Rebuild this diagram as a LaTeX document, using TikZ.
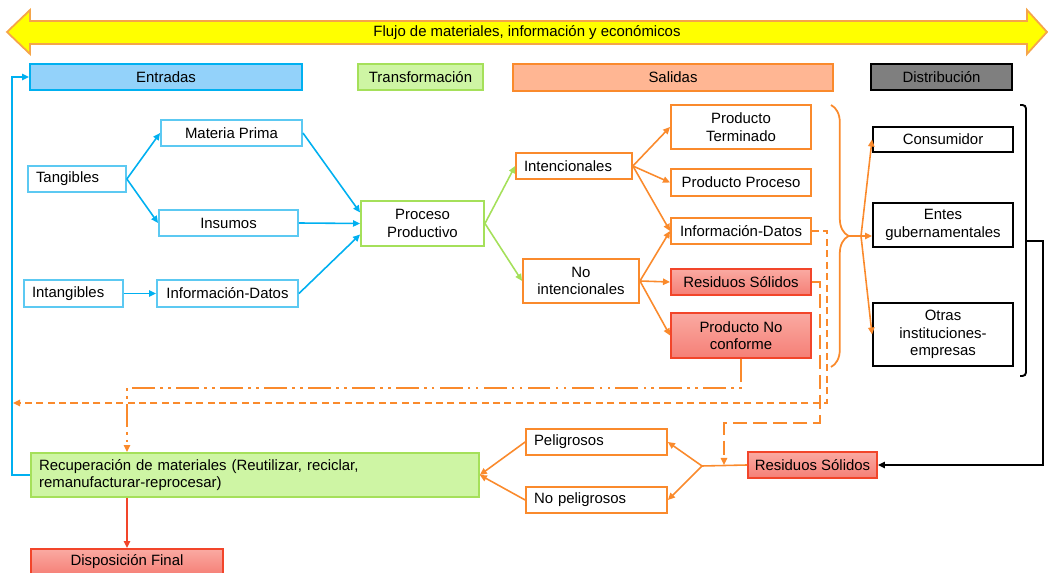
\documentclass[tikz,border=0pt]{standalone}
\usepackage{fontspec}
\setmainfont{Liberation Sans}
\usetikzlibrary{arrows.meta,decorations.pathreplacing}

\definecolor{flujoY}{HTML}{FFFF00}
\definecolor{flujoB}{HTML}{F5A54A}
\definecolor{azul}{HTML}{00B0F0}
\definecolor{azulclaro}{HTML}{5CC9F2}
\definecolor{azulfondo}{HTML}{93D2FA}
\definecolor{verde}{HTML}{A5E05A}
\definecolor{verdefondo}{HTML}{CEF5A4}
\definecolor{naranja}{HTML}{FA8A2C}
\definecolor{naranjafondo}{HTML}{FFB693}
\definecolor{rojo}{HTML}{F2452A}
\definecolor{rojoarriba}{HTML}{FAAAA2}
\definecolor{rojoabajo}{HTML}{F57F76}
\definecolor{gris}{HTML}{7F7F7F}

\begin{document}
\begin{tikzpicture}[x=0.02cm,y=-0.02cm,line width=0.3pt,
  font=\fontsize{8.5}{10}\selectfont,
  caja/.style={draw,line width=1.1pt,inner sep=2pt,align=center,minimum height=0.52cm,fill=white},
  izq/.style={align=left,inner xsep=4.5pt,text width=#1},
  cazul/.style={caja,draw=azulclaro},
  cverde/.style={caja,draw=verde},
  cnaranja/.style={caja,draw=naranja},
  crojo/.style={caja,draw=rojo,top color=rojoarriba,bottom color=rojoabajo},
  cnegro/.style={caja,draw=black},
  punta/.style={-{Triangle[length=4pt,width=3.6pt]},line width=0.9pt},
  fazul/.style={punta,azul},
  fverde/.style={punta,verde},
  fnaranja/.style={punta,naranja},
  dinfo/.style={naranja,line width=0.9pt,dash pattern=on 4pt off 2.5pt},
  dres/.style={naranja,line width=0.9pt,dash pattern=on 8pt off 3.5pt},
  dnc/.style={naranja,line width=1pt,dash pattern=on 13pt off 3pt on 1.5pt off 3pt on 1.5pt off 3pt}]
\useasboundingbox (0,0) rectangle (1048,573);

% flecha de flujo
\draw[fill=flujoY,draw=flujoB,line width=1pt] (7,32) -- (30,10) -- (30,21) -- (1027,21) -- (1027,10)
  -- (1047,32) -- (1027,54) -- (1027,44) -- (30,44) -- (30,54) -- cycle;
\node (flujo) at (527,33) {Flujo de materiales, información y económicos};

% encabezados
\node[caja,draw=azul,fill=azulfondo,minimum width=5.44cm] (entradas) at (166,77) {Entradas};
\node[caja,draw=verde,fill=verdefondo,minimum width=2.5cm] (transf) at (420.5,77) {Transformación};
\node[caja,draw=naranja,fill=naranjafondo,minimum width=6.4cm,minimum height=0.54cm] (salidas) at (673,77.5) {Salidas};
\node[caja,draw=black,fill=gris,minimum width=2.82cm] (distrib) at (941.5,77) {Distribución};

% entradas
\node[cazul,izq=1.64cm] (tang) at (77,179) {Tangibles};
\node[cazul,minimum width=2.82cm] (mprima) at (231.5,133) {Materia Prima};
\node[cazul,minimum width=2.78cm] (insumos) at (228.5,223) {Insumos};
\node[cazul,izq=1.66cm,minimum height=0.54cm] (intang) at (73.5,293.5) {Intangibles};
\node[cazul,minimum width=2.82cm,minimum height=0.54cm] (infoin) at (227.5,293.5) {Información-Datos};

% transformacion
\node[cverde,minimum width=2.46cm,minimum height=0.9cm] (proceso) at (422.5,223.5) {Proceso\\Productivo};

% salidas
\node[cnaranja,izq=2.0cm] (intenc) at (574,166) {Intencionales};
\node[cnaranja,minimum width=2.32cm,minimum height=0.88cm] (nointenc) at (581,281) {No\\intencionales};
\node[cnaranja,minimum width=2.8cm,minimum height=0.88cm] (pterm) at (741,127) {Producto\\Terminado};
\node[cnaranja,minimum width=2.8cm,minimum height=0.54cm] (pproc) at (741,182.5) {Producto Proceso};
\node[cnaranja,minimum width=2.8cm] (infoout) at (741,231) {Información-Datos};
\node[crojo,minimum width=2.8cm] (residuos) at (741,282) {Residuos Sólidos};
\node[crojo,minimum width=2.8cm,minimum height=0.9cm] (pnc) at (741,335.5) {Producto No\\conforme};

% distribucion
\node[cnegro,minimum width=2.8cm,minimum height=0.5cm] (consum) at (943,139.5) {Consumidor};
\node[cnegro,minimum width=2.8cm,minimum height=0.88cm] (entes) at (943,225) {Entes\\gubernamentales};
\node[cnegro,minimum width=2.8cm,minimum height=1.26cm] (otras) at (943,334.5) {Otras\\instituciones-\\empresas};

% recuperacion
\node[caja,draw=verde,fill=verdefondo,izq=8.64cm,minimum height=0.88cm] (recup) at (255,475)
  {Recuperación de materiales (Reutilizar, reciclar,\\remanufacturar-reprocesar)};
\node[crojo,minimum width=3.84cm] (dispo) at (127,562) {Disposición Final};
\node[cnaranja,izq=2.5cm] (peligro) at (596.5,442) {Peligrosos};
\node[cnaranja,izq=2.5cm] (nopelig) at (596.5,500) {No peligrosos};
\node[crojo,minimum width=2.58cm] (resbot) at (812.5,465) {Residuos Sólidos};

\coordinate (abanico) at (861,236);
\coordinate (llave) at (1026,241);
\coordinate (bajada) at (1043,241);
\coordinate (division) at (702,466);
\coordinate (retorno) at (13,403);
\coordinate (caida) at (724,465);
\coordinate (esquina) at (127,388);
\coordinate (subida) at (12,77);

% conectores entradas
\draw[fazul] (tang.east) -- (mprima.west);
\draw[fazul] (tang.east) -- (insumos.west);
\draw[fazul] (intang.east) -- (infoin.west);
\draw[fazul] (mprima.east) -- (proceso.170);
\draw[fazul] (insumos.east) -- (proceso.west);
\draw[fazul] (infoin.east) -- (proceso.190);

% conectores transformacion
\draw[fverde] (proceso.east) -- (intenc.west);
\draw[fverde] (proceso.east) -- (nointenc.west);

% conectores salidas
\draw[fnaranja] (intenc.east) -- (pterm.west);
\draw[fnaranja] (intenc.east) -- (pproc.west);
\draw[fnaranja] (intenc.east) -- (infoout.west);
\draw[fnaranja] (nointenc.east) -- (infoout.west);
\draw[fnaranja] (nointenc.east) -- (residuos.west);
\draw[fnaranja] (nointenc.east) -- (pnc.west);

% llave naranja y distribucion
\draw[naranja,line width=1pt,decorate,decoration={brace,amplitude=10pt}] (831,105) -- (831,367);
\draw[naranja,line width=1pt] (849,236) -- (abanico);
\draw[fnaranja] (abanico) -- (consum.west);
\draw[fnaranja] (abanico) -- (abanico -| entes.west);
\draw[fnaranja] (abanico) -- (otras.west);

% corchete negro
\draw[black,line width=1.1pt,rounded corners=2pt] (1020,105) -- (1026,105) -- (1026,376) -- (1020,376);
\draw[punta,black] (llave) -- (bajada) |- (resbot.east);

% residuos solidos
\draw[naranja,line width=0.9pt] (resbot.west) -- (division);
\draw[fnaranja] (division) -- (peligro.east);
\draw[fnaranja] (division) -- (nopelig.east);
\draw[fnaranja] (peligro.west) -- (recup.east);
\draw[fnaranja] (nopelig.west) -- (recup.east);
\draw[punta,rojo] (dispo.north |- recup.south) -- (dispo.north);
\draw[fazul] (recup.west) -| (subida) -- (entradas.west);

% retornos punteados
\draw[dinfo,-{Triangle[length=4pt,width=3.6pt]}] (infoout.east) -- ++(15,0) |- (retorno);
\draw[dres,-{Triangle[length=4pt,width=3.6pt]}] (residuos.east) -- ++(8,0) -- ++(0,141) -| (caida);
\draw[dnc,-{Triangle[length=4pt,width=3.6pt]}] (pnc.south) |- (esquina) -- (esquina |- recup.north);
\end{tikzpicture}
\end{document}
